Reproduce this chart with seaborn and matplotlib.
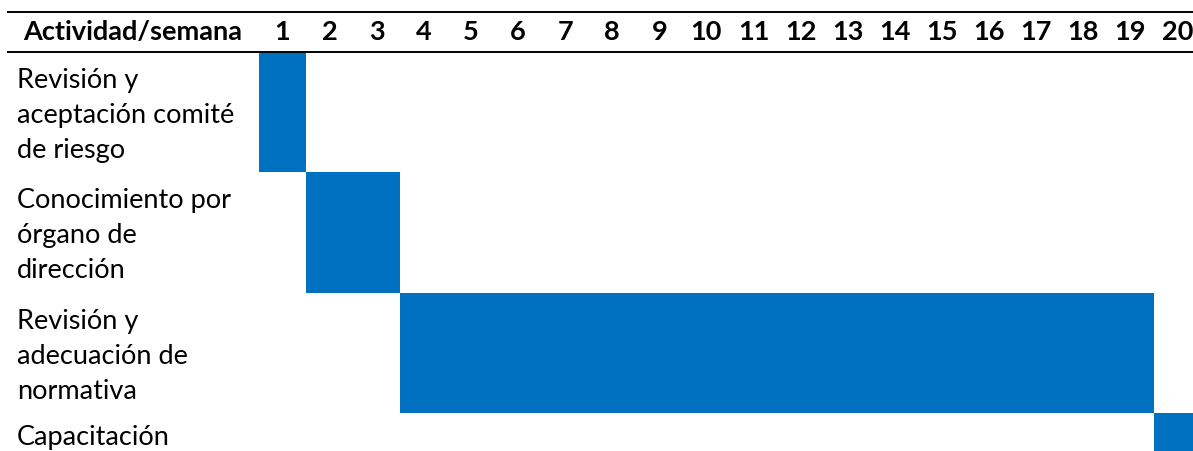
import matplotlib
matplotlib.use("Agg")
import matplotlib.pyplot as plt
from matplotlib.colors import ListedColormap
import numpy as np
import pandas as pd
import seaborn as sns

# Schedule data
activities = [
    "Revisión y\naceptación comité\nde riesgo",
    "Conocimiento por\nórgano de\ndirección",
    "Revisión y\nadecuación de\nnormativa",
    "Capacitación",
]
start_week = [1, 2, 4, 20]
duration_weeks = [1, 2, 16, 1]
weeks = list(range(1, 21))
header_label = "Actividad/semana"

# Activity x week occupancy table
occupancy = pd.DataFrame(0, index=range(len(activities)), columns=weeks)
for i, (s, d) in enumerate(zip(start_week, duration_weeks)):
    occupancy.loc[i, s:s + d - 1] = 1

sns.set_theme(style="white")
plt.rcParams["font.family"] = ["Lato", "DejaVu Sans"]

W, H, DPI = 1193, 451, 100
fig = plt.figure(figsize=(W / DPI, H / DPI), dpi=DPI)

col_w = 47.1   # px per week column
row_h = 120.3  # px per activity row
grid_left = 259
grid_top = 52
ax = fig.add_axes([
    grid_left / W,
    1 - (grid_top + row_h * len(activities)) / H,
    col_w * len(weeks) / W,
    row_h * len(activities) / H,
])

sns.heatmap(
    occupancy, ax=ax, cmap=ListedColormap(["white", "#0070C0"]),
    vmin=0, vmax=1, cbar=False, xticklabels=False, yticklabels=False,
    linewidths=0,
)
for sp in ax.spines.values():
    sp.set_visible(False)

px_x = 1 / col_w
px_y = 1 / row_h
label_x = (17 - grid_left) * px_x
header_y = -20 * px_y
fs = 19.5

ax.text((23 - grid_left) * px_x, header_y, header_label, ha="left", va="center",
        fontsize=fs, fontweight="bold", color="black", clip_on=False)
for j, wk in enumerate(weeks):
    ax.text(j + 0.5, header_y, str(wk), ha="center", va="center",
            fontsize=fs, fontweight="bold", color="black", clip_on=False)

for i, name in enumerate(activities):
    top_pad = 16 if i < len(activities) - 1 else 12
    ax.text(label_x, i + top_pad * px_y, name, ha="left", va="top",
            fontsize=fs, color="black", linespacing=1.5, clip_on=False)

line_x0 = (7 - grid_left) * px_x
for yy in (-40 * px_y, 0):
    ax.plot([line_x0, len(weeks) + 1], [yy, yy], color="black", lw=1.4,
            clip_on=False, solid_capstyle="butt")

ax.set_xlim(0, len(weeks))
ax.set_ylim(len(activities), 0)

fig.savefig("out.png", dpi=DPI)
